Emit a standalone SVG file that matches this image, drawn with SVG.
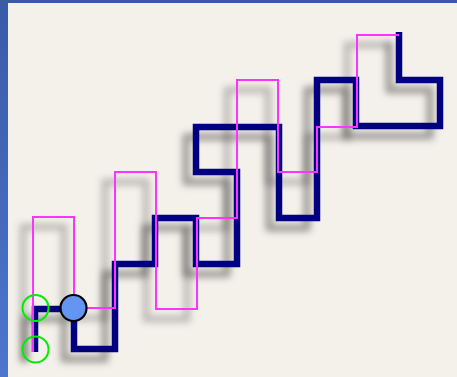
<svg xmlns="http://www.w3.org/2000/svg" width="457" height="377" viewBox="0 0 457 377">
  <defs>
    <linearGradient id="frameGrad" x1="0" y1="0" x2="0" y2="1">
      <stop offset="0" stop-color="#3a5aa6"/>
      <stop offset="1" stop-color="#4d76cc"/>
    </linearGradient>
    <filter id="soft" x="-20%" y="-20%" width="140%" height="140%">
      <feGaussianBlur stdDeviation="3.6"/>
    </filter>
    <path id="navyRoute" d="M35,352 V309 H74 V349 H115 V264 H155 V218 H196 V264 H237 V172 H196 V127 H279 V218 H317 V80 H356 V126 H440 V80 H399 V32"/>
    <path id="pinkRoute" d="M33,352 V217 H74 V308 H115 V172 H156 V309 H197 V218 H237 V80 H278 V172 H317 V127 H357 V35 H399"/>
  </defs>
  <style>
    .shadow { fill: none; stroke: #000; stroke-width: 7; filter: url(#soft); }
    .navy { fill: none; stroke: #000080; stroke-width: 6.5; stroke-linejoin: miter; }
    .pink { fill: none; stroke: #ff33ff; stroke-width: 2; }
    .marker { fill: none; stroke: #00ee00; stroke-width: 2; }
    .point { fill: #6495f2; stroke: #000; stroke-width: 2.2; }
  </style>

  <!-- frame and canvas -->
  <rect x="0" y="0" width="457" height="377" fill="url(#frameGrad)"/>
  <rect x="8" y="3" width="449" height="374" fill="#f4f1eb"/>

  <!-- soft shadows under both routes -->
  <g id="shadows" transform="translate(-10,10)">
    <use href="#navyRoute" class="shadow" stroke-opacity="0.36"/>
    <use href="#pinkRoute" class="shadow" stroke-opacity="0.22" stroke-width="6"/>
  </g>

  <!-- connectors -->
  <g id="connectors">
    <use id="navy-route" href="#navyRoute" class="navy"/>
    <use id="pink-route" href="#pinkRoute" class="pink"/>
  </g>

  <!-- nodes -->
  <g id="marker-upper"><circle cx="35.5" cy="308" r="13" class="marker"/></g>
  <g id="marker-lower"><circle cx="35.5" cy="349.5" r="13" class="marker"/></g>
  <g id="current-point"><circle cx="73.5" cy="308" r="13" class="point"/></g>
</svg>
